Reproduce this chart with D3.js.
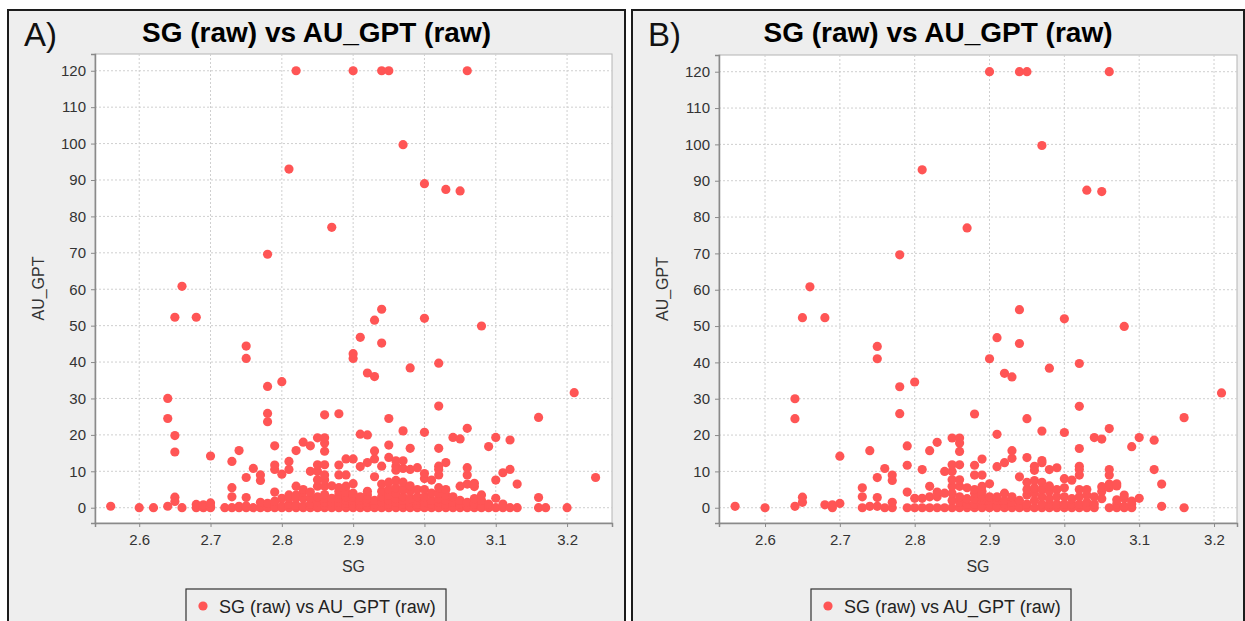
<!DOCTYPE html>
<html>
<head>
<meta charset="utf-8">
<script src="https://cdn.jsdelivr.net/npm/d3@7"></script>
<style>
  html, body { margin: 0; padding: 0; background: #fff; }
  svg { display: block; font-family: "Liberation Sans", Arial, sans-serif; }
</style>
</head>
<body>
<svg id="chart" width="1245" height="621"></svg>
<script>
const TITLE = "SG (raw) vs AU_GPT (raw)"
const X_LABEL = "SG"
const Y_LABEL = "AU_GPT"
const X_TICKS = [2.6, 2.7, 2.8, 2.9, 3.0, 3.1, 3.2]
const Y_TICKS = [0, 10, 20, 30, 40, 50, 60, 70, 80, 90, 100, 110, 120]

// panel A: SG columns and the AU_GPT values found in each column
const SG_A = [2.56, 2.60, 2.62, 2.64, 2.65, 2.66, 2.68, 2.69, 2.70, 2.72, 2.73, 2.74, 2.75, 2.76, 2.77, 2.78,
  2.79, 2.80, 2.81, 2.82, 2.83, 2.84, 2.85, 2.86, 2.87, 2.88, 2.89, 2.90, 2.91, 2.92, 2.93, 2.94, 2.95, 2.96,
  2.97, 2.98, 2.99, 3.00, 3.01, 3.02, 3.03, 3.04, 3.05, 3.06, 3.07, 3.08, 3.09, 3.10, 3.11, 3.12, 3.13, 3.16,
  3.17, 3.20, 3.21, 3.24]
const AU_A = [
  [0.4], [0], [0], [0.4, 24.5, 30], [1.7, 2.9, 15.3, 19.8, 52.3], [0, 60.8], [0, 0.9, 52.3], [0, 0.8],
  [0, 0.4, 1.3, 14.2], [0], [0, 3, 5.5, 12.7], [0, 0.4, 15.7], [0, 0.5, 2.8, 8.3, 41, 44.4], [0, 10.8],
  [0, 1.5, 7.5, 9], [0, 1.2, 23.6, 25.9, 33.3, 69.6],
  [0, 0.5, 1.8, 4.3, 10.5, 11.7, 17], [0, 0.5, 2.6, 9.2, 34.6], [0, 1, 2.6, 3.5, 10.5, 12.7, 93],
  [0, 0.7, 2.6, 3.5, 5.9, 15.7, 120], [0, 0.5, 2.6, 4.3, 5, 18], [0, 1, 2.6, 4.3, 10, 17],
  [0, 0.5, 1.5, 3, 5.9, 7.7, 10, 11.8, 19.2], [0, 0.6, 1.5, 2.6, 3.6, 5.9, 7.7, 9, 11.8, 15.5, 17.8, 19.2, 25.5],
  [0, 0.5, 1.5, 2.6, 6, 77], [0, 0.5, 1.5, 2.6, 3.6, 4.5, 5.5, 9, 11.7, 25.8], [0, 0.5, 1.2, 2, 3, 4.3, 5.9, 9, 13.4],
  [0, 0.5, 1, 2, 3, 4, 6.6, 13.4, 41, 42.3, 120], [0, 0.5, 1, 2, 3, 11.3, 20.2, 46.8],
  [0, 0.5, 1.5, 2.5, 3.5, 4.5, 12.4, 20, 37], [0, 0.5, 1, 2, 8.5, 13.4, 15.6, 36, 51.5],
  [0, 0.5, 1.5, 3, 4.5, 6.5, 11.4, 45.2, 54.5, 120], [0, 0.5, 1, 2, 3.5, 5, 7, 13.8, 17.2, 24.5, 120],
  [0, 0.5, 1.5, 2.5, 4, 5.5, 7.5, 10.3, 11.4, 12.9],
  [0, 0.5, 1, 2, 3, 5, 7, 10.8, 12.9, 21.1, 99.7], [0, 0.5, 1.5, 2.5, 4.5, 6, 10.5, 16.3, 38.4], [0, 0.5, 1, 2, 3, 5, 11],
  [0, 0.5, 1.5, 3, 5, 8, 9.4, 20.7, 52, 89], [0, 0.5, 1, 2, 4, 7.6],
  [0, 0.5, 1.5, 2.5, 4, 5.5, 9, 10.5, 11.4, 16.3, 27.9, 39.7], [0, 0.5, 1, 2, 3.5, 5, 12.4, 87.4],
  [0, 0.5, 1.5, 3, 19.3], [0, 0.5, 1, 2, 5.9, 18.9, 87], [0, 0.5, 1.5, 6.5, 9, 11, 21.8, 120],
  [0, 1, 2.5, 5.8, 6.7], [0, 0.5, 2, 3.5, 49.9], [0, 1, 16.8], [0, 2.6, 7.6, 19.3], [0, 1, 9.6],
  [0, 10.5, 18.6], [0, 6.5], [0, 2.8, 24.8],
  [0], [0], [31.6], [8.3]
]

// panel B: the same pairs after filtering
const SG_B = [2.56, 2.60, 2.64, 2.65, 2.66, 2.68, 2.69, 2.70, 2.73, 2.74, 2.75, 2.76, 2.77, 2.78, 2.79, 2.80,
  2.81, 2.82, 2.83, 2.84, 2.85, 2.86, 2.87, 2.88, 2.89, 2.90, 2.91, 2.92, 2.93, 2.94, 2.95, 2.96, 2.97, 2.98,
  2.99, 3.00, 3.01, 3.02, 3.03, 3.04, 3.05, 3.06, 3.07, 3.08, 3.09, 3.10, 3.12, 3.13, 3.16, 3.21]
const AU_B = [
  [0.4], [0], [0.4, 24.5, 30], [1.5, 2.9, 52.3], [60.8], [0.8, 52.3], [0, 0.8], [1.2, 14.2],
  [0, 3, 5.5], [0.4, 15.7], [0.4, 2.8, 8.3, 41, 44.4], [0, 10.8], [0, 1.5, 7.5, 9], [25.9, 33.3, 69.6],
  [0, 4.3, 11.7, 17], [0, 2.6, 34.6],
  [0, 2.6, 10.5, 93], [0, 3, 5.9, 15.7], [0, 3, 4.3, 18], [0, 4, 10],
  [0, 2, 4, 5.9, 7.7, 10, 11.8, 19.2], [0, 1.5, 3, 5.9, 7.7, 11.8, 15.5, 17.8, 19.2], [0, 1, 2.5, 5.5, 77],
  [0, 1, 2.5, 4, 5, 9, 11.7, 25.8], [0, 0.5, 2, 3, 4.5, 5.9, 9, 13.4], [0, 1, 2, 3, 6.6, 41, 120],
  [0, 0.5, 2, 3, 11.3, 20.2, 46.8], [0, 1, 2, 4, 12.4, 37], [0, 1.5, 3, 13.6, 15.7, 36],
  [0, 0.5, 2, 8.5, 45.2, 54.5, 120], [0, 1, 3.5, 5, 7, 13.8, 24.5, 120], [0, 2, 4, 5.5, 7.5, 10.3, 11.4],
  [0, 1, 3, 5, 7, 12.4, 13, 21.1, 99.7], [0, 1, 2.5, 4.5, 6, 10.5, 38.4],
  [0, 1, 3, 5, 11], [0, 1, 3, 5.5, 8, 20.7, 52], [0, 1, 2.5, 7.6],
  [0, 1, 3, 5, 9, 10.5, 11.4, 16.3, 27.9, 39.7], [0, 1.5, 3.5, 5, 87.4], [0, 1, 3, 19.3],
  [2.5, 4.5, 5.8, 18.9, 87], [0, 5.5, 6.5, 9, 10.5, 21.8, 120], [0, 1, 2.2, 6, 6.6],
  [0, 0.4, 2.6, 3.5, 49.9], [0, 1, 1.8, 16.8], [2.6, 19.3], [10.5, 18.6], [0.4, 6.5], [0, 24.8], [31.6]
]

const Y_DOMAIN = [-4.2, 124.6]
const DOT = "#ff5555"

const panels = [
  {tag: "A)", sg: SG_A, au: AU_A, xDomain: [2.538, 3.263],
    frame: {x: 8, y: 10, w: 617}, plot: {x0: 95, x1: 612, y0: 54, y1: 523}, legendX: 186},
  {tag: "B)", sg: SG_B, au: AU_B, xDomain: [2.5385, 3.2307],
    frame: {x: 632, y: 10, w: 612}, plot: {x0: 719, x1: 1237, y0: 55, y1: 523}, legendX: 811},
]

const svg = d3.select("#chart")

function drawPanel(p) {
  const g = svg.append("g")
  const f = p.frame
  const pl = p.plot

  g.append("rect")
    .attr("x", f.x).attr("y", f.y).attr("width", f.w).attr("height", 660)
    .attr("fill", "#eeeeee").attr("stroke", "#1c1c1c").attr("stroke-width", 2)

  g.append("text")
    .attr("x", f.x + 16).attr("y", f.y + 36)
    .attr("font-size", 33).attr("fill", "#111")
    .text(p.tag)

  g.append("text")
    .attr("x", f.x + f.w / 2).attr("y", f.y + 32)
    .attr("text-anchor", "middle").attr("font-size", 28).attr("font-weight", "bold").attr("fill", "#000")
    .text(TITLE)

  const x = d3.scaleLinear().domain(p.xDomain).range([pl.x0, pl.x1])
  const y = d3.scaleLinear().domain(Y_DOMAIN).range([pl.y1, pl.y0])

  g.append("rect")
    .attr("x", pl.x0).attr("y", pl.y0).attr("width", pl.x1 - pl.x0).attr("height", pl.y1 - pl.y0)
    .attr("fill", "#fff").attr("stroke", "#b4b4b4")

  const grid = g.append("g").attr("stroke", "#cfcfcf").attr("stroke-dasharray", "2,2")
  grid.selectAll("line.v").data(X_TICKS).join("line")
    .attr("x1", (d) => x(d)).attr("x2", (d) => x(d)).attr("y1", pl.y0).attr("y2", pl.y1)
  grid.selectAll("line.h").data(Y_TICKS).join("line")
    .attr("y1", (d) => y(d)).attr("y2", (d) => y(d)).attr("x1", pl.x0).attr("x2", pl.x1)

  const pts = p.sg.flatMap((s, i) => p.au[i].map((v) => ({s, v})))
  g.append("g").selectAll("circle").data(pts).join("circle")
    .attr("cx", (d) => x(d.s)).attr("cy", (d) => y(d.v)).attr("r", 4.6)
    .attr("fill", DOT)

  const ax = g.append("g").attr("transform", `translate(0,${pl.y1})`)
    .call(d3.axisBottom(x).tickValues(X_TICKS).tickFormat(d3.format(".1f")).tickSizeOuter(0).tickSize(4).tickPadding(7))
  const ay = g.append("g").attr("transform", `translate(${pl.x0},0)`)
    .call(d3.axisLeft(y).tickValues(Y_TICKS).tickSizeOuter(0).tickSize(4).tickPadding(5))
  for (const a of [ax, ay]) {
    a.select(".domain").attr("stroke", "#8a8a8a").attr("stroke-width", 1.5)
    a.selectAll(".tick line").attr("stroke", "#8a8a8a")
    a.selectAll(".tick text").attr("fill", "#333").attr("font-size", 15)
      .attr("font-family", "Liberation Sans, Arial, sans-serif")
  }

  g.append("text")
    .attr("x", (pl.x0 + pl.x1) / 2).attr("y", 572)
    .attr("text-anchor", "middle").attr("font-size", 16).attr("fill", "#333")
    .text(X_LABEL)
  g.append("text")
    .attr("transform", `translate(${f.x + 36},${(pl.y0 + pl.y1) / 2}) rotate(-90)`)
    .attr("text-anchor", "middle").attr("font-size", 16).attr("fill", "#333")
    .text(Y_LABEL)

  const lg = g.append("g").attr("transform", `translate(${p.legendX},589)`)
  lg.append("rect").attr("width", 260).attr("height", 45)
    .attr("fill", "#eeeeee").attr("stroke", "#333").attr("stroke-width", 1.2)
  lg.append("circle").attr("cx", 17).attr("cy", 17).attr("r", 4.6).attr("fill", DOT)
  lg.append("text").attr("x", 33).attr("y", 23.5)
    .attr("font-size", 18).attr("fill", "#222")
    .text(TITLE)
}

panels.forEach(drawPanel)
</script>
</body>
</html>
